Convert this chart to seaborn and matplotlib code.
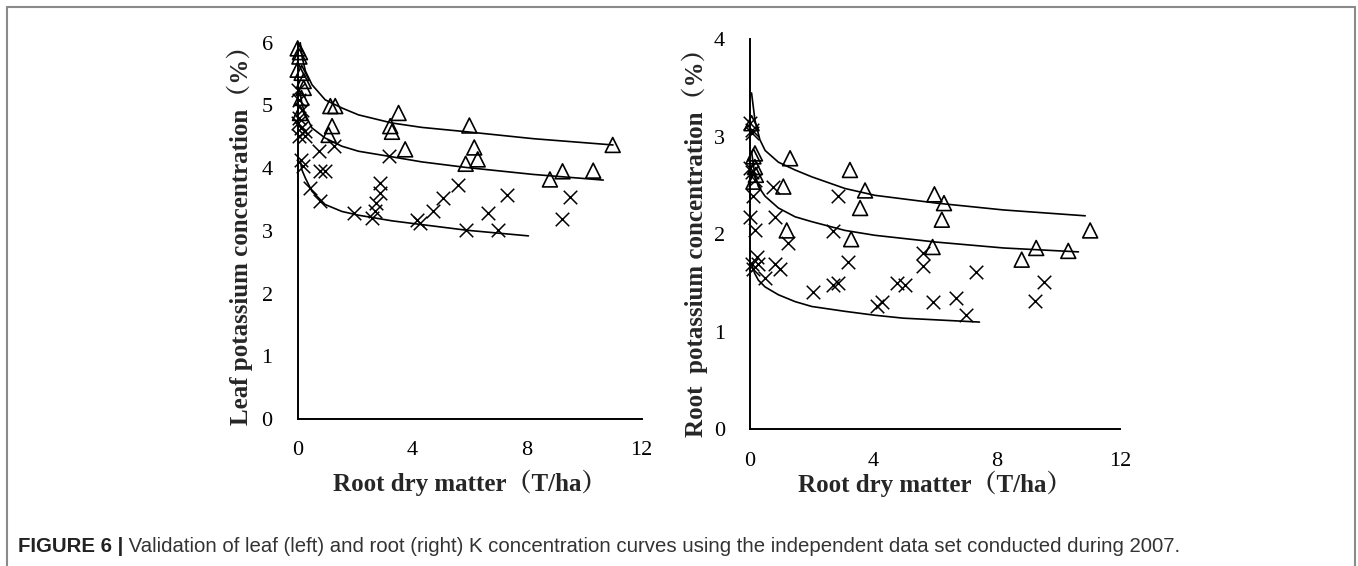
import matplotlib
matplotlib.use('Agg')
import matplotlib.pyplot as plt
import seaborn as sns
from matplotlib import font_manager
from matplotlib.lines import Line2D

# ---- data ----
# leaf panel (left)
leaf_tri_x = [0.0, 0.08, 0.06, 0.0, 0.14, 0.21, 0.21, 0.13, 0.08, 1.14, 1.31, 3.52, 3.23, 3.29,
              1.20, 1.08, 3.75, 5.99, 6.16, 6.28, 5.86, 9.24, 10.31, 8.80, 10.99]
leaf_tri_y = [5.91, 5.85, 5.78, 5.57, 5.52, 5.39, 5.28, 5.12, 4.88, 4.99, 4.99, 4.88, 4.67, 4.58,
              4.67, 4.53, 4.30, 4.68, 4.33, 4.14, 4.07, 3.95, 3.96, 3.82, 4.37]
leaf_x_x = [0.0, 0.06, 0.15, 0.06, 0.0, 0.10, 0.27, 0.03, 0.27, 0.10, 0.20, 0.73, 1.25, 0.79, 0.96,
            0.44, 0.79, 3.17, 1.97, 2.61, 2.69, 2.73, 2.87, 2.87, 4.15, 4.27, 4.73, 5.06, 5.60,
            5.87, 6.65, 7.00, 7.31, 9.21, 9.50]
leaf_x_y = [5.25, 5.09, 4.93, 4.80, 4.72, 4.64, 4.59, 4.51, 4.51, 4.13, 4.03, 4.27, 4.35, 3.95, 3.95,
            3.68, 3.47, 4.19, 3.29, 3.20, 3.31, 3.44, 3.60, 3.76, 3.18, 3.13, 3.32, 3.52, 3.73,
            3.01, 3.29, 3.01, 3.57, 3.19, 3.54]
leaf_up_x = [0.09, 0.15, 0.27, 0.5, 0.96, 1.54, 2.12, 3.29, 4.33, 5.9, 8.22, 11.0]
leaf_up_y = [6.0, 5.78, 5.55, 5.33, 5.09, 4.96, 4.85, 4.72, 4.65, 4.58, 4.47, 4.37]
leaf_mid_x = [0.09, 0.15, 0.27, 0.5, 0.96, 1.54, 2.12, 3.17, 4.33, 5.9, 8.22, 10.66]
leaf_mid_y = [5.2, 5.02, 4.85, 4.64, 4.48, 4.35, 4.27, 4.19, 4.10, 4.01, 3.90, 3.81]
leaf_low_x = [0.09, 0.15, 0.27, 0.5, 0.96, 1.54, 2.12, 3.29, 4.33, 5.9, 8.05]
leaf_low_y = [4.12, 3.97, 3.84, 3.63, 3.42, 3.31, 3.25, 3.16, 3.10, 3.01, 2.92]

# root panel (right)
root_tri_x = [0.05, 0.16, 0.11, 0.16, 0.19, 0.11, 1.30, 1.08, 3.24, 3.73, 3.57, 5.98, 6.29, 6.22,
              1.19, 3.28, 5.92, 9.28, 10.32, 8.81, 11.03]
root_tri_y = [3.14, 2.83, 2.80, 2.69, 2.61, 2.54, 2.78, 2.49, 2.66, 2.45, 2.27, 2.41, 2.32, 2.15,
              2.04, 1.95, 1.87, 1.86, 1.83, 1.74, 2.04]
root_x_x = [0.0, 0.05, 0.08, 0.0, 0.08, 0.16, 0.11, 0.0, 0.16, 0.22, 0.05, 0.27, 0.09, 0.49, 0.76,
            0.81, 0.81, 0.97, 1.24, 2.86, 2.70, 3.19, 2.05, 2.70, 2.86, 4.13, 4.27, 4.76, 5.03,
            5.62, 5.62, 5.92, 6.68, 7.00, 7.32, 9.24, 9.54]
root_x_y = [3.14, 3.07, 3.04, 2.68, 2.64, 2.56, 2.39, 2.18, 2.04, 1.77, 1.70, 1.70, 1.64, 1.55, 2.49,
            2.18, 1.70, 1.64, 1.91, 2.39, 2.03, 1.72, 1.41, 1.48, 1.50, 1.26, 1.31, 1.50, 1.48,
            1.81, 1.67, 1.31, 1.35, 1.17, 1.61, 1.32, 1.51]
root_up_x = [0.05, 0.16, 0.32, 0.49, 0.92, 1.46, 2.0, 3.08, 4.05, 6.05, 8.22, 10.87]
root_up_y = [3.45, 3.17, 2.97, 2.86, 2.74, 2.66, 2.59, 2.47, 2.40, 2.32, 2.25, 2.19]
root_mid_x = [0.05, 0.15, 0.27, 0.49, 0.92, 1.46, 2.0, 3.08, 4.05, 6.05, 8.22, 10.65]
root_mid_y = [2.85, 2.62, 2.49, 2.39, 2.27, 2.18, 2.13, 2.04, 1.99, 1.92, 1.86, 1.82]
root_low_x = [0.08, 0.15, 0.27, 0.49, 0.92, 1.46, 2.0, 3.08, 4.05, 4.97, 7.44]
root_low_y = [1.67, 1.60, 1.53, 1.46, 1.38, 1.31, 1.26, 1.21, 1.17, 1.14, 1.10]

x_ticks = [0, 4, 8, 12]
leaf_yticks = [0, 1, 2, 3, 4, 5, 6]
root_yticks = [0, 1, 2, 3, 4]

x_label = 'Root dry matter（T/ha）'
leaf_label = 'Leaf potassium concentration（%）'
root_label = 'Root  potassium concentration（%）'
caption_bold = 'FIGURE 6 |'
caption_text = ' Validation of leaf (left) and root (right) K concentration curves using the independent data set conducted during 2007.'

sns.set_style('white')
serif = ['Liberation Serif', 'Noto Serif CJK SC', 'Noto Sans CJK SC', 'DejaVu Serif']
plt.rcParams['font.family'] = serif


def pick_font(names):
    for n in names:
        try:
            font_manager.findfont(n, fallback_to_default=False)
            return n
        except Exception:
            pass
    return 'DejaVu Sans'


cap_font = pick_font(['Liberation Sans Narrow', 'Liberation Sans'])

W, H = 1358, 566
fig = plt.figure(figsize=(13.58, 5.66), dpi=100)
ax1 = fig.add_axes([0.2192, 0.2597, 0.2533, 0.6648])
ax2 = fig.add_axes([0.5523, 0.2415, 0.2725, 0.6890])


def draw_panel(ax, tri_x, tri_y, x_x, x_y, curves, ymax, yticks, ylabel, ylab_xy, xlab_y):
    for cx, cy in curves:
        sns.lineplot(x=cx, y=cy, ax=ax, color='black', linewidth=1.2, sort=False,
                     estimator=None, clip_on=False)
    sns.scatterplot(x=tri_x, y=tri_y, ax=ax, marker='^', s=115, facecolors='none',
                    edgecolor='black', linewidth=1.2, clip_on=False, zorder=3)
    sns.scatterplot(x=x_x, y=x_y, ax=ax, marker='x', s=95, color='black',
                    linewidth=1.1, clip_on=False, zorder=3)
    ax.set_xlim(0, 12)
    ax.set_ylim(0, ymax)
    ax.set_xticks(x_ticks)
    ax.set_yticks(yticks)
    sns.despine(ax=ax)
    for s in ['left', 'bottom']:
        ax.spines[s].set_color('black')
        ax.spines[s].set_linewidth(1.4)
    ax.tick_params(axis='both', direction='in', length=5, width=1.2, labelsize=16,
                   colors='black')
    ax.tick_params(axis='x', pad=16)
    ax.tick_params(axis='y', pad=18)
    ax.set_xlabel(x_label, fontsize=18, fontweight='bold', family=serif)
    ax.set_ylabel(ylabel, fontsize=18, fontweight='bold', family=serif)
    ax.yaxis.set_label_coords(*ylab_xy)
    ax.xaxis.set_label_coords(0.5, xlab_y)
    ax.grid(False)


draw_panel(ax1, leaf_tri_x, leaf_tri_y, leaf_x_x, leaf_x_y,
           [(leaf_up_x, leaf_up_y), (leaf_mid_x, leaf_mid_y), (leaf_low_x, leaf_low_y)],
           6, leaf_yticks, leaf_label, (-0.13, 0.505), -0.135)
draw_panel(ax2, root_tri_x, root_tri_y, root_x_x, root_x_y,
           [(root_up_x, root_up_y), (root_mid_x, root_mid_y), (root_low_x, root_low_y)],
           4, root_yticks, root_label, (-0.114, 0.493), -0.105)

# frame around the figure (open at the bottom)
for xs, ys in [([7, 7], [0, H - 7]), ([7, 1355], [H - 7, H - 7]), ([1355, 1355], [0, H - 7])]:
    fig.add_artist(Line2D([x / W for x in xs], [y / H for y in ys], color='#8a8a8a',
                          linewidth=1.5, transform=fig.transFigure))

# caption, sized so that it ends where the reference one ends
cap_y = 1 - 546 / H
cap_size = 15
t1 = fig.text(18 / W, cap_y, caption_bold, fontsize=cap_size, fontweight='bold',
              family=cap_font, color='#222222', va='center', ha='left')
t2 = fig.text(0, cap_y, caption_text, fontsize=cap_size, family=cap_font,
              color='#333333', va='center', ha='left')
fig.canvas.draw()
total = t1.get_window_extent().width + t2.get_window_extent().width
cap_size = cap_size * (1183 - 18) / total
t1.set_fontsize(cap_size)
t2.set_fontsize(cap_size)
fig.canvas.draw()
t2.set_x(t1.get_window_extent().x1 / W)

fig.savefig('out.png', dpi=100)
